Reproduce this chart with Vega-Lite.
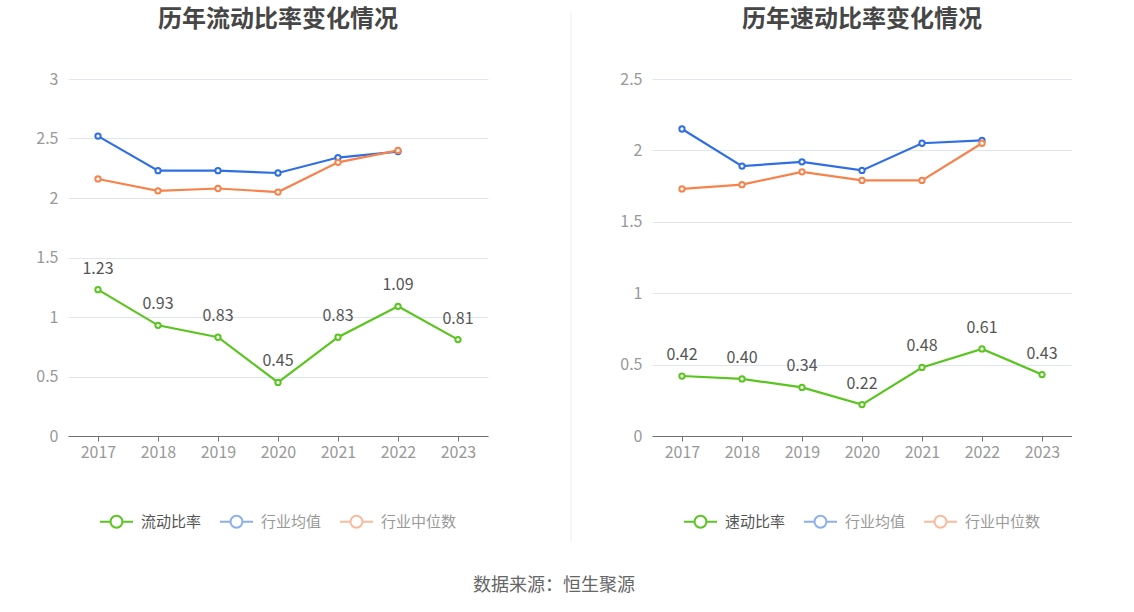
{
  "$schema": "https://vega.github.io/schema/vega-lite/v6.json",
  "padding": {"left": 35, "top": 8, "right": 0, "bottom": 0},
  "datasets": {
    "current": [
      {"year": "2017", "series": "流动比率", "value": 1.23},
      {"year": "2018", "series": "流动比率", "value": 0.93},
      {"year": "2019", "series": "流动比率", "value": 0.83},
      {"year": "2020", "series": "流动比率", "value": 0.45},
      {"year": "2021", "series": "流动比率", "value": 0.83},
      {"year": "2022", "series": "流动比率", "value": 1.09},
      {"year": "2023", "series": "流动比率", "value": 0.81},
      {"year": "2017", "series": "行业均值", "value": 2.52},
      {"year": "2018", "series": "行业均值", "value": 2.23},
      {"year": "2019", "series": "行业均值", "value": 2.23},
      {"year": "2020", "series": "行业均值", "value": 2.21},
      {"year": "2021", "series": "行业均值", "value": 2.34},
      {"year": "2022", "series": "行业均值", "value": 2.39},
      {"year": "2017", "series": "行业中位数", "value": 2.16},
      {"year": "2018", "series": "行业中位数", "value": 2.06},
      {"year": "2019", "series": "行业中位数", "value": 2.08},
      {"year": "2020", "series": "行业中位数", "value": 2.05},
      {"year": "2021", "series": "行业中位数", "value": 2.30},
      {"year": "2022", "series": "行业中位数", "value": 2.40}
    ],
    "quick": [
      {"year": "2017", "series": "速动比率", "value": 0.42},
      {"year": "2018", "series": "速动比率", "value": 0.40},
      {"year": "2019", "series": "速动比率", "value": 0.34},
      {"year": "2020", "series": "速动比率", "value": 0.22},
      {"year": "2021", "series": "速动比率", "value": 0.48},
      {"year": "2022", "series": "速动比率", "value": 0.61},
      {"year": "2023", "series": "速动比率", "value": 0.43},
      {"year": "2017", "series": "行业均值", "value": 2.15},
      {"year": "2018", "series": "行业均值", "value": 1.89},
      {"year": "2019", "series": "行业均值", "value": 1.92},
      {"year": "2020", "series": "行业均值", "value": 1.86},
      {"year": "2021", "series": "行业均值", "value": 2.05},
      {"year": "2022", "series": "行业均值", "value": 2.07},
      {"year": "2017", "series": "行业中位数", "value": 1.73},
      {"year": "2018", "series": "行业中位数", "value": 1.76},
      {"year": "2019", "series": "行业中位数", "value": 1.85},
      {"year": "2020", "series": "行业中位数", "value": 1.79},
      {"year": "2021", "series": "行业中位数", "value": 1.79},
      {"year": "2022", "series": "行业中位数", "value": 2.05}
    ]
  },
  "title": {
    "text": "数据来源：恒生聚源",
    "orient": "bottom",
    "anchor": "middle",
    "fontSize": 18,
    "fontWeight": "normal",
    "color": "#666666",
    "offset": 34
  },
  "spacing": 0,
  "resolve": {"scale": {"color": "independent"}},
  "hconcat": [
    {
      "data": {"name": "current"},
      "width": 420,
      "height": 357,
      "title": {"text": "历年流动比率变化情况", "frame": "group", "offset": 39},
      "encoding": {
        "x": {"field": "year", "type": "ordinal", "title": null, "scale": {"type": "point", "padding": 0.5}},
        "y": {"field": "value", "type": "quantitative", "title": null, "scale": {"domain": [0, 3]}, "axis": {"values": [0, 0.5, 1, 1.5, 2, 2.5, 3], "format": "~g"}}
      },
      "layer": [
        {
          "mark": {"type": "line", "strokeWidth": 2.2, "point": {"filled": false, "fill": "white", "size": 28, "strokeWidth": 2}},
          "encoding": {
            "color": {
              "field": "series", "type": "nominal",
              "scale": {"domain": ["流动比率", "行业均值", "行业中位数"], "range": ["#5ac51f", "#2f6fe3", "#f7834c"]},
              "legend": {
                "encode": {
                  "symbols": {"update": {"opacity": [{"test": "datum.value !== '流动比率'", "value": 0.55}, {"value": 1}], "fill": {"value": "white"}}},
                  "labels": {"update": {"fill": [{"test": "datum.value !== '流动比率'", "value": "#999999"}, {"value": "#555555"}]}}
                }
              }
            }
          }
        },
        {
          "transform": [{"filter": "datum.series === '流动比率'"}],
          "mark": {"type": "text", "dy": -21, "fontSize": 16, "color": "#555555"},
          "encoding": {"text": {"field": "value", "type": "quantitative", "format": ".2f"}}
        }
      ]
    },
    {
      "data": {"values": [{}]},
      "width": 131,
      "height": 357,
      "mark": {"type": "rule", "color": "#eeeeee", "strokeWidth": 1},
      "encoding": {
        "x": {"datum": 0.634, "type": "quantitative", "scale": {"domain": [0, 1]}, "axis": null},
        "y": {"datum": 1.19, "type": "quantitative", "scale": {"domain": [0, 1]}, "axis": null},
        "y2": {"datum": -0.297}
      }
    },
    {
      "data": {"name": "quick"},
      "width": 420,
      "height": 357,
      "title": {"text": "历年速动比率变化情况", "frame": "group", "offset": 39},
      "encoding": {
        "x": {"field": "year", "type": "ordinal", "title": null, "scale": {"type": "point", "padding": 0.5}},
        "y": {"field": "value", "type": "quantitative", "title": null, "scale": {"domain": [0, 2.5]}, "axis": {"values": [0, 0.5, 1, 1.5, 2, 2.5], "format": "~g"}}
      },
      "layer": [
        {
          "mark": {"type": "line", "strokeWidth": 2.2, "point": {"filled": false, "fill": "white", "size": 28, "strokeWidth": 2}},
          "encoding": {
            "color": {
              "field": "series", "type": "nominal",
              "scale": {"domain": ["速动比率", "行业均值", "行业中位数"], "range": ["#5ac51f", "#2f6fe3", "#f7834c"]},
              "legend": {
                "encode": {
                  "symbols": {"update": {"opacity": [{"test": "datum.value !== '速动比率'", "value": 0.55}, {"value": 1}], "fill": {"value": "white"}}},
                  "labels": {"update": {"fill": [{"test": "datum.value !== '速动比率'", "value": "#999999"}, {"value": "#555555"}]}}
                }
              }
            }
          }
        },
        {
          "transform": [{"filter": "datum.series === '速动比率'"}],
          "mark": {"type": "text", "dy": -21, "fontSize": 16, "color": "#555555"},
          "encoding": {"text": {"field": "value", "type": "quantitative", "format": ".2f"}}
        }
      ]
    }
  ],
  "config": {
    "font": "Noto Sans CJK SC",
    "view": {"stroke": null},
    "title": {"fontSize": 24, "fontWeight": "bold", "color": "#464646", "anchor": "middle"},
    "axisX": {
      "labelAngle": 0, "labelColor": "#999999", "labelFontSize": 16, "labelPadding": 3,
      "domainColor": "#6e7079", "tickColor": "#6e7079", "tickSize": 5, "grid": false
    },
    "axisY": {
      "labelColor": "#999999", "labelFontSize": 16, "labelPadding": 10,
      "domain": false, "ticks": false, "gridColor": "#e0e6f1"
    },
    "legend": {
      "orient": "bottom", "direction": "horizontal", "title": null,
      "symbolType": "M-1,0L-0.36,0M0.36,0L1,0M0.36,0A0.36,0.36,0,1,1,-0.36,0A0.36,0.36,0,1,1,0.36,0Z",
      "symbolSize": 1089, "symbolStrokeWidth": 2, "labelFontSize": 15, "labelOffset": 7,
      "columnPadding": 14, "offset": 44,
      "layout": {"bottom": {"anchor": "middle"}}
    }
  }
}
